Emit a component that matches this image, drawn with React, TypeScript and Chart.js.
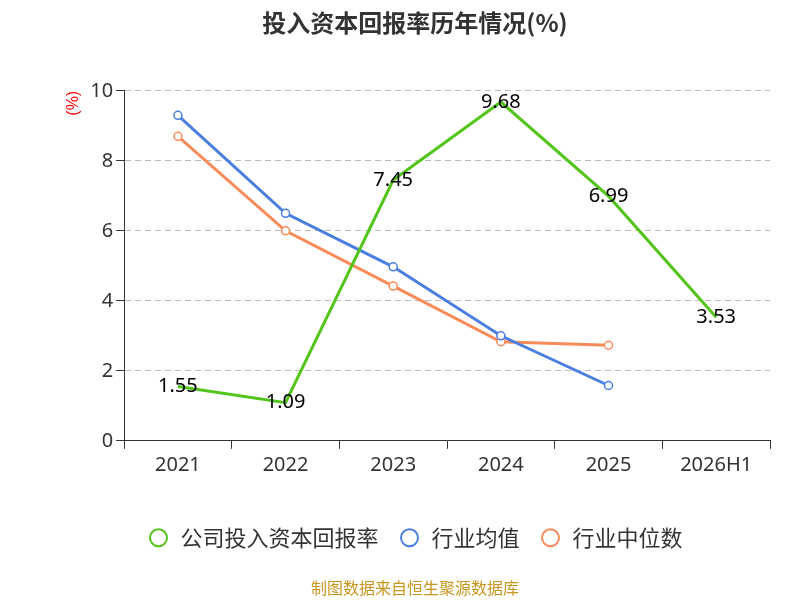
import React, { useEffect, useRef } from "react";
import { Chart, registerables } from "chart.js";
Chart.register(...registerables);

const categories = ["2021", "2022", "2023", "2024", "2025", "2026H1"];
const company = [1.55, 1.09, 7.45, 9.68, 6.99, 3.53];
const industryMean = [9.3, 6.5, 4.97, 3.0, 1.58, null];
const industryMedian = [8.7, 6.0, 4.42, 2.83, 2.73, null];
const yTicks = [0, 2, 4, 6, 8, 10];

const labelPlugin = {
  id: "vals",
  afterDatasetsDraw(chart: any) {
    const ctx = chart.ctx;
    const meta = chart.getDatasetMeta(0);
    ctx.save();
    ctx.font = "20px 'Noto Sans', sans-serif";
    ctx.fillStyle = "#000";
    ctx.textAlign = "center";
    ctx.textBaseline = "middle";
    meta.data.forEach((p: any, i: number) => {
      ctx.fillText(company[i].toFixed(2), p.x, p.y);
    });
    ctx.restore();
  },
};

export default function App() {
  const ref = useRef<HTMLCanvasElement>(null);
  useEffect(() => {
    const chart = new Chart(ref.current!, {
      type: "line",
      data: {
        labels: categories,
        datasets: [
          { label: "公司投入资本回报率", data: company, borderColor: "#52c41a", backgroundColor: "#fff", borderWidth: 3, pointRadius: 0, pointHoverRadius: 0, pointStyle: "circle" },
          { label: "行业均值", data: industryMean, borderColor: "#4a7ee0", backgroundColor: "#fff", borderWidth: 3, pointRadius: 4, pointBorderWidth: 1.5, pointStyle: "circle" },
          { label: "行业中位数", data: industryMedian, borderColor: "#f98b5a", backgroundColor: "#fff", borderWidth: 3, pointRadius: 4, pointBorderWidth: 1.5, pointStyle: "circle" },
        ],
      },
      options: {
        animation: false,
        responsive: false,
        layout: { padding: { left: 60, right: 30, top: 0, bottom: 0 } },
        plugins: {
          title: { display: true, text: "投入资本回报率历年情况(%)", font: { size: 24, weight: "bold", family: "'Noto Sans CJK SC', sans-serif" }, color: "#333", padding: { top: 8, bottom: 54 } },
          legend: {
            position: "bottom",
            labels: {
              usePointStyle: true,
              pointStyle: "circle",
              boxHeight: 12,
              font: { size: 22, family: "'Noto Sans CJK SC', sans-serif" },
              color: "#333",
              padding: 20,
              generateLabels: (c: any) =>
                c.data.datasets.map((d: any, i: number) => ({ text: d.label, fillStyle: "#fff", strokeStyle: d.borderColor, lineWidth: 2, pointStyle: "circle", datasetIndex: i, fontColor: "#333" })),
            },
          },
          subtitle: { display: true, position: "bottom", text: "制图数据来自恒生聚源数据库", color: "#c8961e", font: { size: 16, family: "'Noto Sans CJK SC', sans-serif" }, padding: { top: 20, bottom: 2 } },
          tooltip: { enabled: false },
        },
        scales: {
          x: {
            offset: true,
            afterFit: (s: any) => { s.height += 26; },
            grid: { display: true, offset: true, drawOnChartArea: false, drawTicks: true, tickLength: 8, color: "#333" },
            border: { color: "#333" },
            ticks: { font: { size: 20, family: "'Noto Sans', sans-serif" }, color: "#333", padding: 4 },
          },
          y: {
            min: 0,
            max: 10,
            afterBuildTicks: (s: any) => { s.ticks = yTicks.map((v) => ({ value: v })); },
            title: { display: true, text: "(%)", color: "red", align: "end", font: { size: 16 } },
            grid: { color: "#bbb", tickLength: 8, drawTicks: true, tickColor: "#333" },
            border: { color: "#333", dash: [6, 4] },
            ticks: { font: { size: 20, family: "'Noto Sans', sans-serif" }, color: "#333" },
          },
        },
      },
      plugins: [labelPlugin],
    } as any);
    return () => chart.destroy();
  }, []);
  return (
    <div style={{ position: "fixed", left: 0, top: 0, width: 800, height: 600 }}>
      <canvas ref={ref} width={800} height={600} />
    </div>
  );
}
